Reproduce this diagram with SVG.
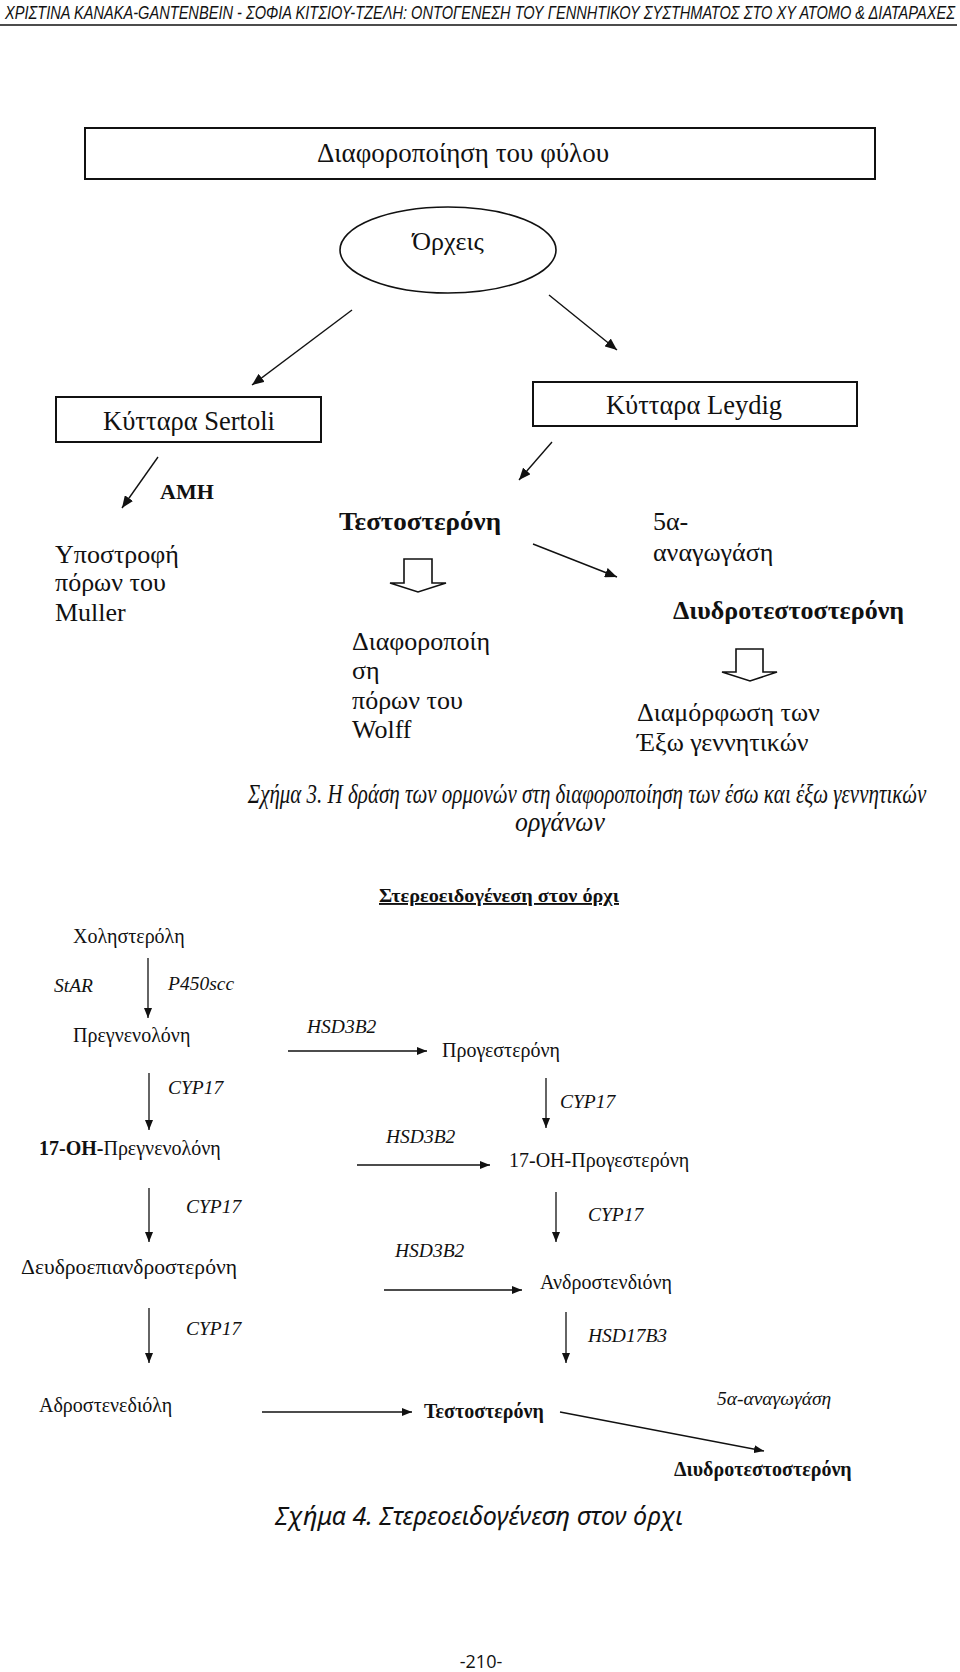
<svg xmlns="http://www.w3.org/2000/svg" width="960" height="1672" viewBox="0 0 960 1672">
<style>
.s{font-family:"Liberation Serif","Times New Roman",serif;fill:#111}
.f1{font-size:26px}
.f2{font-size:20px}
.b{font-weight:bold}
.i{font-style:italic}
.box{fill:none;stroke:#111;stroke-width:2}
.ln{fill:none;stroke:#111;stroke-width:1.4}
.ln2{fill:none;stroke:#111;stroke-width:1.3}
.hol{fill:#fff;stroke:#111;stroke-width:1.6;stroke-linejoin:miter}
</style>
<defs>
<marker id="ah1" viewBox="0 0 12 10" refX="12" refY="5" markerWidth="12" markerHeight="10" orient="auto" markerUnits="userSpaceOnUse"><path d="M0,0 L12,5 L0,10 z" fill="#111"/></marker>
<marker id="ah2" viewBox="0 0 10 8" refX="10" refY="4" markerWidth="10" markerHeight="8" orient="auto" markerUnits="userSpaceOnUse"><path d="M0,0 L10,4 L0,8 z" fill="#111"/></marker>
</defs>
<rect width="960" height="1672" fill="#fff"/>

<g id="header">
<text transform="translate(5,19) scale(0.7,1)" x="0" y="0" font-family="Liberation Sans,Arial,sans-serif" font-style="italic" font-size="18" fill="#111" textLength="1357" lengthAdjust="spacingAndGlyphs">ΧΡΙΣΤΙΝΑ KANAKA-GANTENBEIN - ΣΟΦΙΑ ΚΙΤΣΙΟΥ-ΤΖΕΛΗ: ΟΝΤΟΓΕΝΕΣΗ ΤΟΥ ΓΕΝΝΗΤΙΚΟΥ ΣΥΣΤΗΜΑΤΟΣ ΣΤΟ ΧΥ ΑΤΟΜΟ &amp; ΔΙΑΤΑΡΑΧΕΣ</text>
<line x1="0" y1="25" x2="957" y2="25" stroke="#111" stroke-width="1.3"/>
</g>

<!-- Figure 3 -->
<g id="n-sex">
<rect class="box" x="85" y="128" width="790" height="51"/>
<text class="s" x="463" y="162" text-anchor="middle" font-size="27">Διαφοροποίηση του φύλου</text>
</g>
<g id="n-testes">
<ellipse cx="448" cy="250" rx="108" ry="43" fill="none" stroke="#111" stroke-width="1.6"/>
<text class="s f1" x="448" y="250" text-anchor="middle">Όρχεις</text>
</g>
<g id="n-sertoli">
<rect class="box" x="56" y="397" width="265" height="45"/>
<text class="s" x="189" y="430" text-anchor="middle" font-size="26.5">Κύτταρα Sertoli</text>
</g>
<g id="n-leydig">
<rect class="box" x="533" y="382" width="324" height="44"/>
<text class="s" x="694" y="414" text-anchor="middle" font-size="26.5">Κύτταρα Leydig</text>
</g>
<g id="n-amh"><text class="s b" x="160" y="499" font-size="22">AMH</text></g>
<g id="n-muller">
<text class="s f1" x="55" y="563">Υποστροφή</text>
<text class="s f1" x="55" y="591">πόρων του</text>
<text class="s f1" x="55" y="621">Muller</text>
</g>
<g id="n-testo1"><text class="s f1 b" x="339" y="530" textLength="162" lengthAdjust="spacingAndGlyphs">Τεστοστερόνη</text></g>
<g id="n-wolff">
<text class="s f1" x="352" y="650">Διαφοροποίη</text>
<text class="s f1" x="352" y="679">ση</text>
<text class="s f1" x="352" y="709">πόρων του</text>
<text class="s f1" x="352" y="738">Wolff</text>
</g>
<g id="n-5a1">
<text class="s f1" x="653" y="530">5α-</text>
<text class="s f1" x="653" y="561">αναγωγάση</text>
</g>
<g id="n-dht1"><text class="s f1 b" x="673" y="619">Διυδροτεστοστερόνη</text></g>
<g id="n-ext">
<text class="s f1" x="637" y="721">Διαμόρφωση των</text>
<text class="s f1" x="637" y="751">Έξω γεννητικών</text>
</g>

<g id="connectors-fig3">
<line class="ln" x1="352" y1="310" x2="252" y2="385" marker-end="url(#ah1)"/>
<line class="ln" x1="549" y1="295" x2="617" y2="350" marker-end="url(#ah1)"/>
<line class="ln" x1="158" y1="457" x2="122" y2="508" marker-end="url(#ah1)"/>
<line class="ln" x1="552" y1="442" x2="519" y2="480" marker-end="url(#ah1)"/>
<line class="ln" x1="533" y1="544" x2="617" y2="577" marker-end="url(#ah1)"/>
<path class="hol" d="M404,559 L432,559 L432,583 L446,583 L418,592 L390,583 L404,583 Z"/>
<path class="hol" d="M736,649 L763,649 L763,672 L777,672 L750,681 L722,672 L736,672 Z"/>
</g>

<g id="caption3">
<text transform="translate(587,803) scale(0.76,1)" x="0" y="0" text-anchor="middle" font-family="Liberation Serif,serif" font-style="italic" font-size="27" fill="#111" textLength="893" lengthAdjust="spacingAndGlyphs">Σχήμα 3. Η δράση των ορμονών στη διαφοροποίηση των έσω και έξω γεννητικών</text>
<text x="560" y="831" text-anchor="middle" font-family="Liberation Serif,serif" font-style="italic" font-size="27" fill="#111" textLength="90" lengthAdjust="spacingAndGlyphs">οργάνων</text>
</g>

<!-- Figure 4 -->
<g id="title4"><text class="s b" font-size="19" x="379" y="902" text-decoration="underline" textLength="240" lengthAdjust="spacingAndGlyphs">Στερεοειδογένεση στον όρχι</text></g>
<g id="m-chol"><text class="s f2" x="73" y="943">Χοληστερόλη</text></g>
<g id="m-preg"><text class="s f2" x="73" y="1042">Πρεγνενολόνη</text></g>
<g id="m-prog"><text class="s f2" x="442" y="1057">Προγεστερόνη</text></g>
<g id="m-17preg"><text class="s f2" x="39" y="1155"><tspan font-weight="bold">17-OH-</tspan>Πρεγνενολόνη</text></g>
<g id="m-17prog"><text class="s f2" x="509" y="1167">17-OH-Προγεστερόνη</text></g>
<g id="m-dhea"><text class="s f2" x="21" y="1274" textLength="216" lengthAdjust="spacingAndGlyphs">Δευδροεπιανδροστερόνη</text></g>
<g id="m-andro"><text class="s f2" x="540" y="1289">Ανδροστενδιόνη</text></g>
<g id="m-adiol"><text class="s f2" x="39" y="1412">Αδροστενεδιόλη</text></g>
<g id="m-testo"><text class="s f2 b" x="424" y="1418">Τεστοστερόνη</text></g>
<g id="m-dht"><text class="s f2 b" x="674" y="1476">Διυδροτεστοστερόνη</text></g>

<g id="connectors-fig4">
<line class="ln2" x1="148" y1="958" x2="148" y2="1018" marker-end="url(#ah2)"/>
<line class="ln2" x1="149" y1="1073" x2="149" y2="1130" marker-end="url(#ah2)"/>
<line class="ln2" x1="149" y1="1188" x2="149" y2="1242" marker-end="url(#ah2)"/>
<line class="ln2" x1="149" y1="1308" x2="149" y2="1363" marker-end="url(#ah2)"/>
<line class="ln2" x1="546" y1="1078" x2="546" y2="1128" marker-end="url(#ah2)"/>
<line class="ln2" x1="556" y1="1192" x2="556" y2="1242" marker-end="url(#ah2)"/>
<line class="ln2" x1="566" y1="1312" x2="566" y2="1363" marker-end="url(#ah2)"/>
<line class="ln2" x1="288" y1="1051" x2="427" y2="1051" marker-end="url(#ah2)"/>
<line class="ln2" x1="357" y1="1165" x2="490" y2="1165" marker-end="url(#ah2)"/>
<line class="ln2" x1="384" y1="1290" x2="522" y2="1290" marker-end="url(#ah2)"/>
<line class="ln2" x1="262" y1="1412" x2="412" y2="1412" marker-end="url(#ah2)"/>
<line class="ln2" x1="560" y1="1412" x2="764" y2="1451" marker-end="url(#ah2)"/>
<g class="s i" font-size="19.5">
<text x="54" y="992">StAR</text>
<text x="168" y="990">P450scc</text>
<text x="307" y="1033">HSD3B2</text>
<text x="168" y="1094">CYP17</text>
<text x="560" y="1108">CYP17</text>
<text x="386" y="1143">HSD3B2</text>
<text x="186" y="1213">CYP17</text>
<text x="588" y="1221">CYP17</text>
<text x="395" y="1257">HSD3B2</text>
<text x="186" y="1335">CYP17</text>
<text x="588" y="1342">HSD17B3</text>
<text x="717" y="1405">5α-αναγωγάση</text>
</g>
</g>

<g id="caption4">
<text x="479" y="1525" text-anchor="middle" font-family="Noto Sans,DejaVu Sans,sans-serif" font-style="italic" font-size="25" fill="#111" textLength="408" lengthAdjust="spacingAndGlyphs">Σχήμα 4. Στερεοειδογένεση στον όρχι</text>
</g>
<g id="page"><text x="481" y="1668" text-anchor="middle" font-family="Open Sans,Liberation Sans,sans-serif" font-size="18" fill="#111">-210-</text></g>
</svg>
